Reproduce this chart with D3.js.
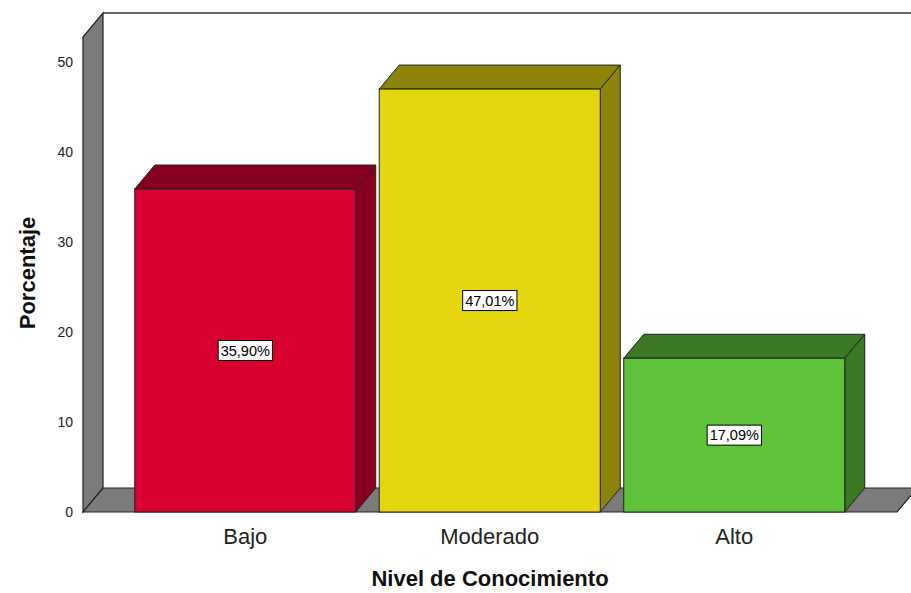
<!DOCTYPE html>
<html><head><meta charset="utf-8">
<script src="https://cdn.jsdelivr.net/npm/d3@7"></script>
<style>body{margin:0;background:#fff;}svg{display:block;font-family:"Liberation Sans",Arial,sans-serif;}</style>
</head><body>
<svg id="c" width="911" height="593"></svg>
<script>
const categories = ["Bajo", "Moderado", "Alto"];
const values = [35.90, 47.01, 17.09];
const valueLabels = ["35,90%", "47,01%", "17,09%"];
const yTicks = [0, 10, 20, 30, 40, 50];
const frontColors = ["#d7002f", "#e3d60f", "#5ec33a"];
const darkColors = ["#870020", "#8c830a", "#3a7824"];

const svg = d3.select("#c");
const dx = 20, dy = -24;
const y = d3.scaleLinear().domain([0, 52.8]).range([512, 37]);
const x = d3.scaleBand().domain(categories).range([123, 856.5]).paddingInner(0.096).paddingOuter(0.048);
const xl = 83, xr = 897;
const stroke = "#222";

svg.append("line").attr("x1", xl + dx).attr("x2", 911).attr("y1", y(52.8) + dy).attr("y2", y(52.8) + dy)
  .attr("stroke", "#333").attr("stroke-width", 1.5);
const p = pts => pts.map(d => d.join(",")).join(" ");
svg.append("polygon").attr("points", p([[xl, y(0)], [xl, y(52.8)], [xl + dx, y(52.8) + dy], [xl + dx, y(0) + dy]]))
  .attr("fill", "#7b7b7b").attr("stroke", stroke).attr("stroke-width", 1.2);
svg.append("polygon").attr("points", p([[xl, y(0)], [xl + dx, y(0) + dy], [xr + dx, y(0) + dy], [xr, y(0)]]))
  .attr("fill", "#7b7b7b").attr("stroke", stroke).attr("stroke-width", 1.2);

const data = categories.map((c, i) => ({c, v: values[i], lab: valueLabels[i], f: frontColors[i], d: darkColors[i]}));
const g = svg.selectAll("g.bar").data(data).join("g").attr("class", "bar");
g.append("polygon").attr("points", d => { const x0 = x(d.c), x1 = x0 + x.bandwidth(), yt = y(d.v);
  return p([[x0, yt], [x0 + dx, yt + dy], [x1 + dx, yt + dy], [x1, yt]]); })
  .attr("fill", d => d.d).attr("stroke", stroke).attr("stroke-width", 1).attr("stroke-linejoin", "round");
g.append("polygon").attr("points", d => { const x1 = x(d.c) + x.bandwidth(), yt = y(d.v), yb = y(0);
  return p([[x1, yt], [x1 + dx, yt + dy], [x1 + dx, yb + dy], [x1, yb]]); })
  .attr("fill", d => d.d).attr("stroke", stroke).attr("stroke-width", 1).attr("stroke-linejoin", "round");
g.append("rect").attr("x", d => x(d.c)).attr("y", d => y(d.v)).attr("width", x.bandwidth())
  .attr("height", d => y(0) - y(d.v)).attr("fill", d => d.f).attr("stroke", stroke).attr("stroke-width", 1);
g.each(function(d) {
  const gg = d3.select(this);
  const cx = x(d.c) + x.bandwidth() / 2, cy = (y(d.v) + y(0)) / 2;
  const t = gg.append("text").attr("x", cx).attr("y", cy + 5).attr("text-anchor", "middle")
    .attr("font-size", 14.5).attr("fill", "#000").text(d.lab);
  const bb = t.node().getBBox();
  gg.insert("rect", "text").attr("x", bb.x - 2.5).attr("y", cy - 10).attr("width", bb.width + 5).attr("height", 20)
    .attr("fill", "#fff").attr("stroke", "#000").attr("stroke-width", 1);
});

svg.selectAll("text.yt").data(yTicks).join("text").attr("class", "yt")
  .attr("x", 73).attr("y", d => y(d) + 5).attr("text-anchor", "end").attr("font-size", 14).attr("fill", "#222").text(d => d);
svg.selectAll("text.xt").data(categories).join("text").attr("class", "xt")
  .attr("x", d => x(d) + x.bandwidth() / 2).attr("y", 544).attr("text-anchor", "middle")
  .attr("font-size", 22).attr("fill", "#222").text(d => d);
svg.append("text").attr("x", 490).attr("y", 586).attr("text-anchor", "middle").attr("font-size", 22)
  .attr("font-weight", "bold").attr("fill", "#111").text("Nivel de Conocimiento");
svg.append("text").attr("transform", "translate(35,273) rotate(-90)").attr("text-anchor", "middle").attr("font-size", 22)
  .attr("font-weight", "bold").attr("fill", "#111").text("Porcentaje");
</script>
</body></html>
